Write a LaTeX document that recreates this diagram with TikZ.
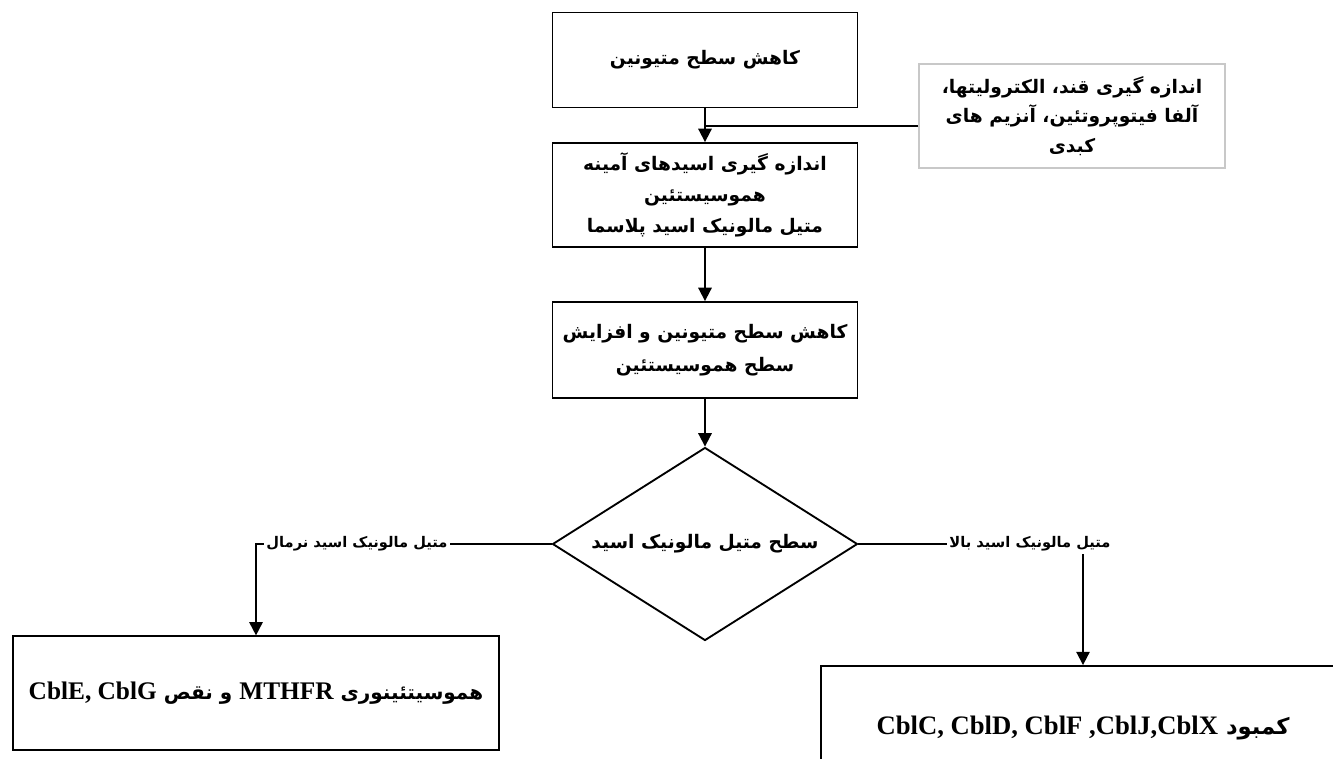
\documentclass[tikz,border=0pt]{standalone}
\usepackage{fontspec}
\setmainfont{Liberation Serif}
\newfontfamily\farsi[Script=Arabic]{DejaVu Sans}
\TeXXeTstate=1
\usetikzlibrary{shapes.geometric,arrows.meta}
\newcommand{\fa}[1]{{\farsi\bfseries\beginR #1\endR}}
\newcommand{\lt}[1]{\beginL{\rmfamily\bfseries #1}\endL{}}

\tikzset{every picture/.style={line width=0.75pt}}
\tikzset{
  stepbox/.style={draw, line width=1.4pt, fill=white, inner sep=0pt, align=center,
    font=\fontsize{14}{24}\selectfont},
  labbox/.style={stepbox, draw={rgb,255:red,200;green,200;blue,200}, line width=1pt,
    font=\fontsize{14}{22}\selectfont},
  askbox/.style={stepbox, shape=diamond, shape aspect=1.58},
  endbox/.style={stepbox, font=\fontsize{17}{22}\selectfont},
  flow/.style={line width=1.4pt, -{Triangle[length=10pt,width=10pt]}},
  edgelabel/.style={fill=white, inner sep=2pt, font=\fontsize{11}{13}\selectfont}
}

\begin{document}
\begin{tikzpicture}[x=0.75pt,y=0.75pt,yscale=-1,xscale=1]
\clip (0,0) rectangle (1333,758);

% Text Node
\node [stepbox, minimum width=228.75pt, minimum height=71.25pt] (lowmet) at (705,60) {\fa{کاهش سطح متیونین}};
% Text Node
\node [labbox, minimum width=229.5pt, minimum height=78pt] (lab) at (1072,116) {\fa{اندازه گیری قند، الکترولیتها،}\\\fa{آلفا فیتوپروتئین، آنزیم های}\\\fa{کبدی}};
% Text Node
\node [stepbox, minimum width=228.75pt, minimum height=78pt, font=\fontsize{14}{23}\selectfont] (amino) at (705,195) {\fa{اندازه گیری اسیدهای آمینه}\\\fa{هموسیستئین}\\\fa{متیل مالونیک اسید پلاسما}};
% Text Node
\node [stepbox, minimum width=228.75pt, minimum height=72pt, font=\fontsize{14}{25}\selectfont] (hcy) at (705,350) {\fa{کاهش سطح متیونین و افزایش}\\\fa{سطح هموسیستئین}};
% Text Node
\node [askbox, minimum width=228.75pt, minimum height=144.75pt] (mma) at (705,544) {\fa{سطح متیل مالونیک اسید}};
% Text Node
\node [endbox, minimum width=365pt, minimum height=85pt, font=\fontsize{15}{22}\selectfont] (mthfr) at (256,693) {\fa{هموسیتئینوری {\fontsize{19}{22}\selectfont\lt{MTHFR}} و نقص {\fontsize{19}{22}\selectfont\lt{CblE, CblG}}}};
% Text Node
\node [endbox, minimum width=393pt, minimum height=93pt] (cbl) at (1083,728) {\fa{کمبود {\fontsize{20}{22}\selectfont\lt{CblC, CblD, CblF ,CblJ,CblX}}}};

\coordinate (join) at (705,126);

% Connection
\draw [flow] (lowmet) -- (amino);
\draw [line width=1.4pt] (lab.west |- join) -- (join);
\draw [flow] (amino) -- (hcy);
\draw [flow] (hcy) -- (mma);
\draw [flow] (mma.west) -| (mthfr.north);
\draw [flow] (mma.east) -| (cbl.north);

% Text Node
\node [edgelabel] (normal) at (357,544) {\fa{متیل مالونیک اسید نرمال}};
\node [edgelabel] (high) at (1030,544) {\fa{متیل مالونیک اسید بالا}};

\end{tikzpicture}
\end{document}
